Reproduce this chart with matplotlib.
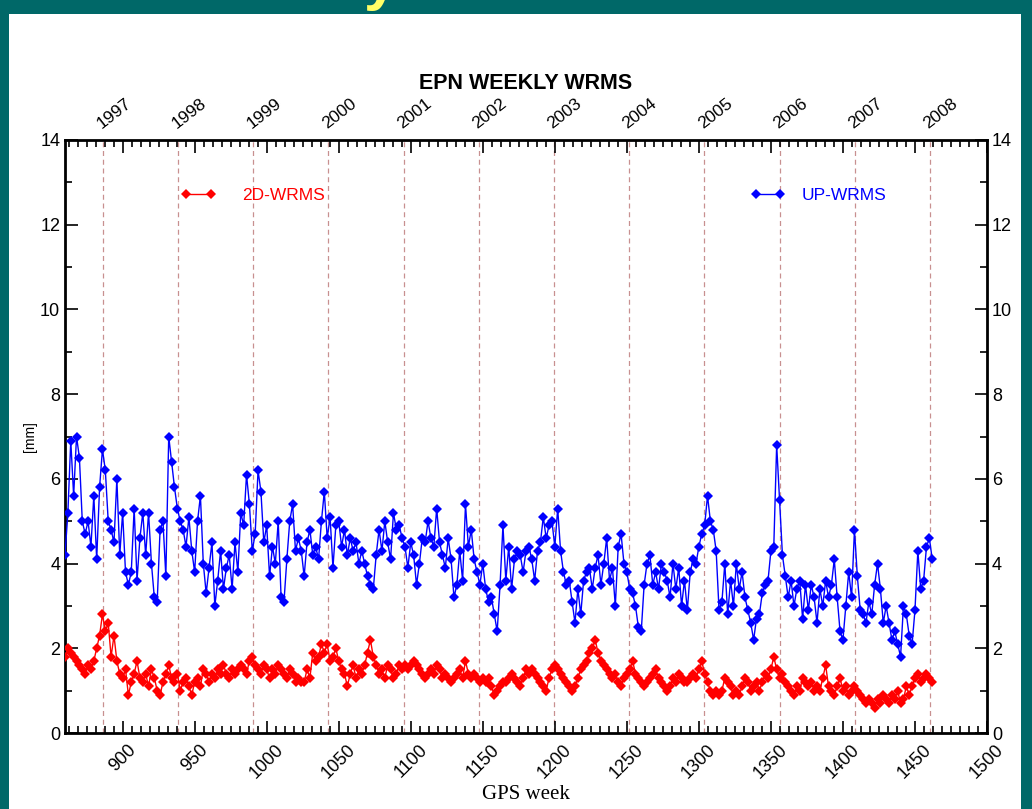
import numpy as np
import matplotlib.pyplot as plt
from matplotlib.ticker import MultipleLocator
from matplotlib.lines import Line2D
from matplotlib.patches import Rectangle

up_wrms = [
    4.2, 5.2, 6.9, 5.6, 7.0, 6.5,
    5.0, 4.7, 5.0, 4.4, 5.6, 4.1, 5.8,
    6.7, 6.2, 5.0, 4.8, 4.5, 6.0, 4.2,
    5.2, 3.8, 3.5, 3.8, 5.3, 3.6, 4.6,
    5.2, 4.2, 5.2, 4.0, 3.2, 3.1, 4.8,
    5.0, 3.7, 7.0, 6.4, 5.8, 5.3, 5.0,
    4.8, 4.4, 5.1, 4.3, 3.8, 5.0, 5.6,
    4.0, 3.3, 3.9, 4.5, 3.0, 3.6, 4.3,
    3.4, 3.9, 4.2, 3.4, 4.5, 3.8, 5.2,
    4.9, 6.1, 5.4, 4.3, 4.7, 6.2, 5.7,
    4.5, 4.9, 3.7, 4.4, 4.0, 5.0, 3.2,
    3.1, 4.1, 5.0, 5.4, 4.3, 4.6, 4.3,
    3.7, 4.5, 4.8, 4.2, 4.4, 4.1, 5.0,
    5.7, 4.6, 5.1, 3.9, 4.9, 5.0, 4.4,
    4.8, 4.2, 4.6, 4.3, 4.5, 4.0, 4.3,
    4.0, 3.7, 3.5, 3.4, 4.2, 4.8, 4.3,
    5.0, 4.5, 4.1, 5.2, 4.8, 4.9, 4.6,
    4.4, 3.9, 4.5, 4.2, 3.5, 4.0, 4.6,
    4.5, 5.0, 4.6, 4.4, 5.3, 4.5, 4.2,
    3.9, 4.6, 4.1, 3.2, 3.5, 4.3, 3.6,
    5.4, 4.4, 4.8, 4.1, 3.8, 3.5, 4.0,
    3.4, 3.1, 3.2, 2.8, 2.4, 3.5, 4.9,
    3.6, 4.4, 3.4, 4.1, 4.3, 4.2, 3.8,
    4.3, 4.4, 4.1, 3.6, 4.3, 4.5, 5.1,
    4.6, 4.9, 5.0, 4.4, 5.3, 4.3, 3.8,
    3.5, 3.6, 3.1, 2.6, 3.4, 2.8, 3.6,
    3.8, 3.9, 3.4, 3.9, 4.2, 3.5, 4.0,
    4.6, 3.6, 3.9, 3.0, 4.4, 4.7, 4.0,
    3.8, 3.4, 3.3, 3.0, 2.5, 2.4, 3.5,
    4.0, 4.2, 3.5, 3.8, 3.4, 4.0, 3.8,
    3.6, 3.2, 4.0, 3.4, 3.9, 3.0, 3.6,
    2.9, 3.8, 4.1, 4.0, 4.4, 4.7, 4.9,
    5.6, 5.0, 4.8, 4.3, 2.9, 3.1, 4.0,
    2.8, 3.6, 3.0, 4.0, 3.4, 3.8, 3.2,
    2.9, 2.6, 2.2, 2.7, 2.8, 3.3, 3.5,
    3.6, 4.3, 4.4, 6.8, 5.5, 4.2, 3.7,
    3.2, 3.6, 3.0, 3.4, 3.6, 2.7, 3.5,
    2.9, 3.5, 3.2, 2.6, 3.4, 3.0, 3.6,
    3.2, 3.5, 4.1, 3.2, 2.4, 2.2, 3.0,
    3.8, 3.2, 4.8, 3.7, 2.9, 2.8, 2.6,
    3.1, 2.8, 3.5, 4.0, 3.4, 2.6, 3.0,
    2.6, 2.2, 2.4, 2.1, 1.8, 3.0, 2.8,
    2.3, 2.1, 2.9, 4.3, 3.4, 3.6, 4.4, 4.6, 4.1,
]

wrms_2d = [
    1.8, 2.0, 1.9, 1.8, 1.7, 1.6,
    1.5, 1.4, 1.6, 1.5, 1.7, 2.0, 2.3,
    2.8, 2.4, 2.6, 1.8, 2.3, 1.7, 1.4,
    1.3, 1.5, 0.9, 1.2, 1.4, 1.7, 1.3,
    1.2, 1.4, 1.1, 1.5, 1.3, 1.0, 0.9,
    1.2, 1.4, 1.6, 1.3, 1.2, 1.4, 1.0,
    1.2, 1.3, 1.1, 0.9, 1.2, 1.3, 1.1,
    1.5, 1.4, 1.2, 1.4, 1.3, 1.5, 1.4,
    1.6, 1.4, 1.3, 1.5, 1.4, 1.5, 1.6,
    1.5, 1.4, 1.7, 1.8, 1.6, 1.5, 1.4,
    1.6, 1.5, 1.3, 1.5, 1.4, 1.6, 1.5,
    1.4, 1.3, 1.5, 1.4, 1.2, 1.3, 1.2,
    1.2, 1.5, 1.3, 1.9, 1.7, 1.8, 2.1,
    1.9, 2.1, 1.7, 1.8, 2.0, 1.7, 1.5,
    1.4, 1.1, 1.4, 1.6, 1.3, 1.5, 1.4,
    1.6, 1.9, 2.2, 1.8, 1.6, 1.4, 1.5,
    1.3, 1.6, 1.5, 1.3, 1.4, 1.6, 1.5,
    1.6, 1.5, 1.6, 1.7, 1.6, 1.5, 1.4,
    1.3, 1.4, 1.5, 1.4, 1.6, 1.5, 1.3,
    1.4, 1.3, 1.2, 1.3, 1.4, 1.5, 1.3,
    1.7, 1.4, 1.3, 1.4, 1.3, 1.2, 1.3,
    1.2, 1.3, 1.1, 0.9, 1.0, 1.1, 1.2,
    1.2, 1.3, 1.4, 1.3, 1.2, 1.1, 1.3,
    1.5, 1.4, 1.5, 1.4, 1.3, 1.2, 1.1,
    1.0, 1.3, 1.5, 1.6, 1.5, 1.4, 1.3,
    1.2, 1.1, 1.0, 1.1, 1.3, 1.5, 1.6,
    1.7, 1.9, 2.0, 2.2, 1.9, 1.7, 1.6,
    1.5, 1.4, 1.3, 1.4, 1.2, 1.1, 1.3,
    1.4, 1.5, 1.7, 1.4, 1.3, 1.2, 1.1,
    1.2, 1.3, 1.4, 1.5, 1.3, 1.2, 1.1,
    1.0, 1.1, 1.3, 1.2, 1.4, 1.3, 1.2,
    1.2, 1.3, 1.4, 1.3, 1.5, 1.7, 1.4,
    1.2, 1.0, 0.9, 1.0, 0.9, 1.0, 1.3,
    1.2, 1.1, 0.9, 1.0, 0.9, 1.1, 1.3,
    1.2, 1.0, 1.1, 1.2, 1.0, 1.2, 1.4,
    1.3, 1.5, 1.8, 1.5, 1.3, 1.4, 1.2,
    1.1, 1.0, 0.9, 1.1, 1.0, 1.3, 1.2,
    1.1, 1.2, 1.0, 1.1, 1.0, 1.3, 1.6,
    1.1, 1.0, 0.9, 1.1, 1.3, 1.0, 1.1,
    0.9, 1.0, 1.1, 1.0, 0.9, 0.8, 0.7,
    0.8, 0.7, 0.6, 0.8, 0.7, 0.9, 0.8,
    0.7, 0.9, 0.8, 1.0, 0.7, 0.8, 1.1,
    0.9, 1.1, 1.3, 1.4, 1.2, 1.3, 1.4, 1.3, 1.2,
]

weeks = np.arange(860, 860 + 2 * len(up_wrms), 2)

year_labels = ['1997', '1998', '1999', '2000', '2001', '2002',
               '2003', '2004', '2005', '2006', '2007', '2008']
year_weeks = [886.4, 938.6, 990.7, 1042.9, 1095.1, 1147.3,
              1199.4, 1251.6, 1303.9, 1356.0, 1408.1, 1460.3]

teal = '#006868'
sans = ['Liberation Sans', 'DejaVu Sans']
msize = 5.6
lw = 1.0

fig = plt.figure(figsize=(10.32, 8.09), dpi=100, facecolor=teal)
# white slide panel inside the teal frame
fig.patches.append(Rectangle((9 / 1032, 0), 1012 / 1032, 1 - 14 / 809,
                             transform=fig.transFigure, facecolor='white',
                             edgecolor='none', zorder=-5))
fig.text(0.352, 1.022, 'y', color='#ffff66', fontsize=44, fontweight='bold',
         ha='left', va='center', family=sans)

ax = fig.add_axes([65 / 1032, 1 - 733 / 809, 922 / 1032, 593 / 809])
ax.set_zorder(2)

# year boundaries
for w in year_weeks:
    ax.axvline(w, color='#c89090', linestyle=(0, (4, 3)), linewidth=0.9, zorder=1)

ax.plot(weeks, wrms_2d, color='red', linewidth=lw, marker='D',
        markersize=msize, markeredgewidth=0, zorder=3)
ax.plot(weeks, up_wrms, color='blue', linewidth=lw, marker='D',
        markersize=msize, markeredgewidth=0, zorder=4)

ax.set_xlim(860, 1500)
ax.set_ylim(0, 14)

ax.xaxis.set_major_locator(MultipleLocator(50))
ax.xaxis.set_minor_locator(MultipleLocator(6.25))
ax.yaxis.set_major_locator(MultipleLocator(2))
ax.yaxis.set_minor_locator(MultipleLocator(1))
ax.tick_params(which='both', direction='in', top=True, right=True,
               labelright=True, width=1.2, labelsize=13)
ax.tick_params(which='major', length=9)
ax.tick_params(which='minor', length=5)
ax.tick_params(axis='x', which='major', pad=6)
for spine in ax.spines.values():
    spine.set_linewidth(2)

for lab in ax.get_xticklabels():
    lab.set_rotation(45)
    lab.set_ha('center')
    lab.set_family(sans)
for t in ax.yaxis.get_major_ticks():
    t.label1.set_family(sans)
    t.label2.set_family(sans)

# year labels above the frame
for w, lab in zip(year_weeks, year_labels):
    ax.text(w, 14.2, lab, rotation=38, ha='left', va='bottom',
            fontsize=12.5, family=sans, rotation_mode='anchor')

ax.set_title('EPN WEEKLY WRMS', fontsize=15.5, fontweight='bold',
             family=sans, pad=37)
ax.set_xlabel('GPS week', fontsize=15, family=['Liberation Serif', 'DejaVu Serif'],
              labelpad=2)
ax.set_ylabel('[mm]', fontsize=10, family=sans, labelpad=2)

# legends
h_2d = Line2D([], [], color='red', linewidth=lw, marker='D', markersize=msize,
              markeredgewidth=0)
h_up = Line2D([], [], color='blue', linewidth=lw, marker='D', markersize=msize,
              markeredgewidth=0)
leg1 = ax.legend([h_2d], ['2D-WRMS'], loc='center left',
                 bbox_to_anchor=(0.126, 0.907), frameon=False, numpoints=2,
                 handlelength=2.0, handletextpad=1.5, borderpad=0,
                 borderaxespad=0, prop={'family': sans, 'size': 12.5},
                 labelcolor='red')
ax.add_artist(leg1)
ax.legend([h_up], ['UP-WRMS'], loc='center left',
          bbox_to_anchor=(0.744, 0.907), frameon=False, numpoints=2,
          handlelength=2.0, handletextpad=0.9, borderpad=0,
          borderaxespad=0, prop={'family': sans, 'size': 12.5},
          labelcolor='blue')

fig.savefig('out.png', dpi=100, facecolor=teal)
